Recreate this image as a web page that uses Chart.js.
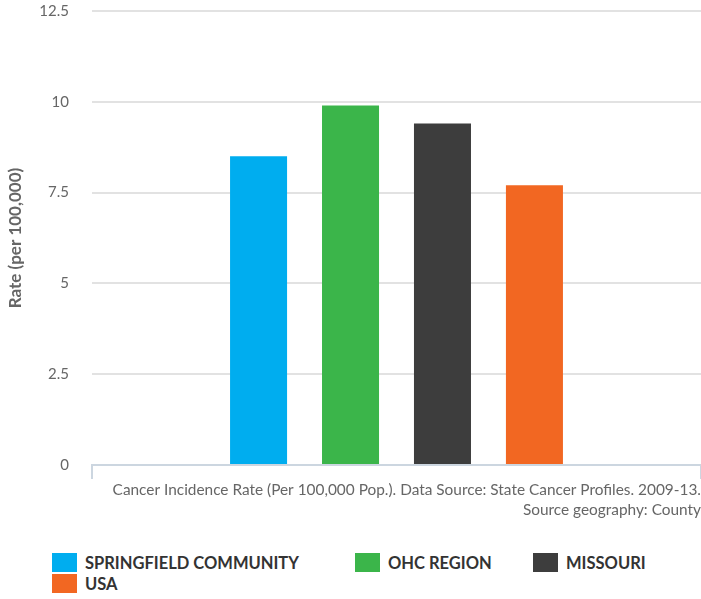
<!DOCTYPE html>
<html>
<head>
<meta charset="utf-8">
<script src="https://cdn.jsdelivr.net/npm/chart.js@4/dist/chart.umd.min.js"></script>
<style>
  body { margin: 0; background: #fff; font-family: Lato, sans-serif; }
  #wrap { position: relative; width: 701px; height: 599px; }
  #chartBox { position: absolute; left: 0; top: 0; width: 701px; height: 530px; }
  #legend { position: absolute; left: 0; top: 553px; width: 701px; }
  .item { position: absolute; display: flex; align-items: center; height: 19px;
          font-weight: bold; font-size: 16.5px; color: #333; white-space: nowrap; }
  .item span.box { display: inline-block; width: 25px; height: 19px; margin-right: 8px; }
</style>
</head>
<body>
<div id="wrap">
  <div id="chartBox"><canvas id="chart"></canvas></div>
  <div id="legend"></div>
</div>
<script>
// dữ liệu
const categories = [""];
const seriesNames = ["SPRINGFIELD COMMUNITY", "OHC REGION", "MISSOURI", "USA"];
const seriesValues = [8.5, 9.9, 9.4, 7.7];
const yMin = 0;
const yMax = 12.5;
const yStep = 2.5;
const yTitle = "Rate (per 100,000)";
const caption = [
  "Cancer Incidence Rate (Per 100,000 Pop.). Data Source: State Cancer Profiles. 2009-13.",
  "Source geography: County"
];

const colors = ["#00adef", "#3bb54a", "#3d3d3d", "#f26722"];
const legendSpots = [[52, 0], [355, 0], [533, 0], [52, 21]]; // vị trí legend

const datasets = seriesNames.map((name, i) => ({
  label: name,
  data: [seriesValues[i]],
  backgroundColor: colors[i],
  categoryPercentage: 0.604,
  barPercentage: 0.62,
}));

const ctx = document.getElementById("chart").getContext("2d");
new Chart(ctx, {
  type: "bar",
  data: { labels: categories, datasets: datasets },
  options: {
    responsive: true,
    maintainAspectRatio: false,
    animation: false,
    layout: { padding: { top: 11, left: 0, right: 0, bottom: 0 } },
    plugins: { legend: { display: false }, tooltip: { enabled: false } },
    scales: {
      x: {
        grid: { display: true, drawOnChartArea: false, drawTicks: true, tickLength: 14, color: "#ccd6e0", lineWidth: 2 },
        border: { display: true, color: "#ccd6e0", width: 2 },
        ticks: { display: false },
        title: {
          display: true,
          text: caption,
          align: "end",
          color: "#666",
          font: { family: "Lato", size: 15.4, lineHeight: 1.3 },
          padding: { top: 0, bottom: 10 },
        },
        afterFit: (scale) => { scale.height = 65; },
      },
      y: {
        min: yMin,
        max: yMax,
        ticks: { stepSize: yStep, color: "#666", padding: 23, font: { family: "Lato", size: 15 } },
        grid: { color: "#e2e2e2", lineWidth: 2, drawTicks: false },
        border: { display: false },
        title: {
          display: true,
          text: yTitle,
          color: "#666",
          font: { family: "Lato", size: 17, weight: "bold", lineHeight: 1.2 },
          padding: { top: 5, bottom: 0 },
        },
        afterFit: (scale) => {
          scale.width = 92;
          // bỏ padding của ticks để vùng vẽ bắt đầu sát trên
          scale.paddingTop = 8;
          scale.paddingBottom = 8;
        },
      },
    },
  },
});

// legend bằng HTML
const legend = document.getElementById("legend");
seriesNames.forEach((name, i) => {
  const item = document.createElement("div");
  item.className = "item";
  item.style.left = legendSpots[i][0] + "px";
  item.style.top = legendSpots[i][1] + "px";
  const box = document.createElement("span");
  box.className = "box";
  box.style.background = colors[i];
  item.appendChild(box);
  item.appendChild(document.createTextNode(name));
  legend.appendChild(item);
});
</script>
</body>
</html>
